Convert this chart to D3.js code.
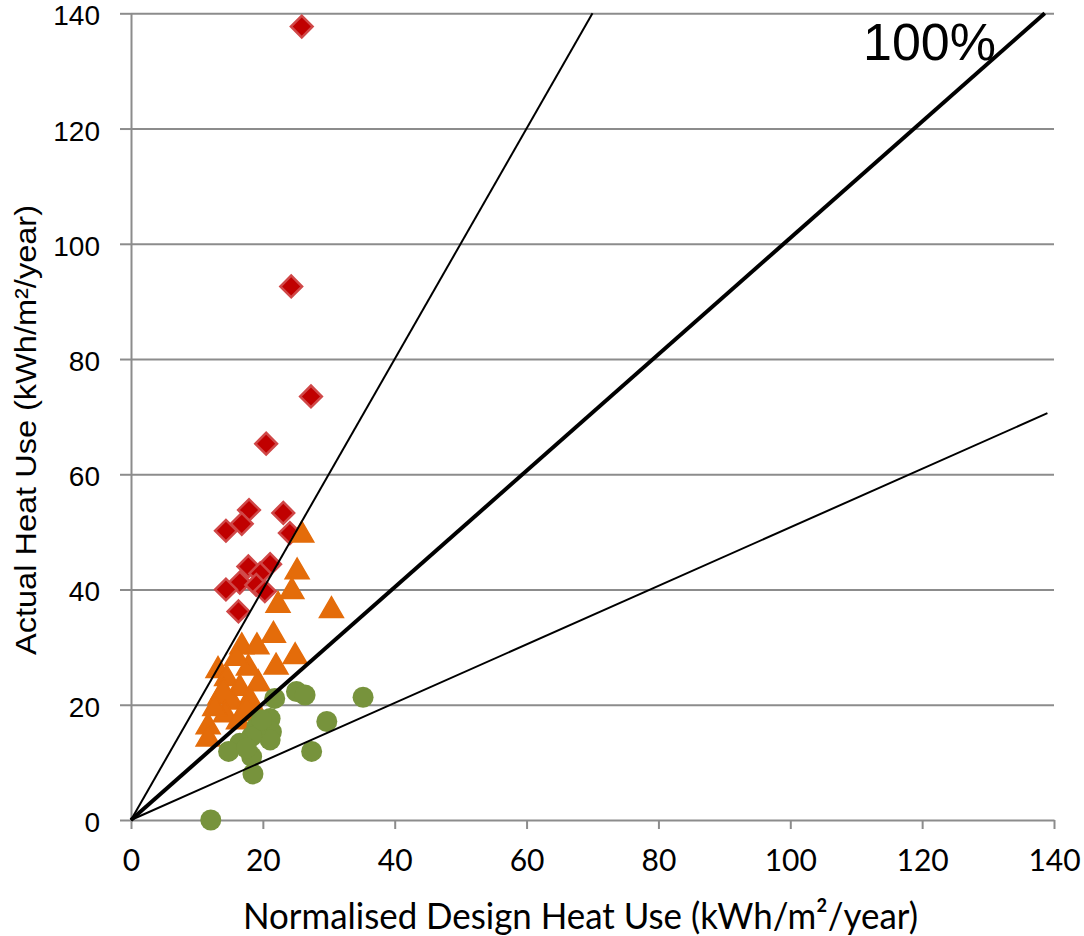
<!DOCTYPE html>
<html>
<head>
<meta charset="utf-8">
<script src="https://d3js.org/d3.v7.min.js"></script>
<style>
  body { margin: 0; background: #fff; }
  .grid line { stroke: #8c8c8c; stroke-width: 2px; }
  .grid path { display: none; }
  .axis path, .axis line { stroke: #8c8c8c; stroke-width: 2px; }
  .yaxis text { font-family: "Liberation Sans", Arial, sans-serif; font-size: 28px; fill: #000; }
  .xaxis text { font-family: Lato, "Open Sans", sans-serif; font-size: 30px; fill: #000; }
</style>
</head>
<body>
<div class="container"></div>
<script>
(function(){

// ratings (kWh/m2/year): [design, actual]
var redX = [25.9, 24.3, 27.3, 20.5, 17.9, 16.8, 14.4, 23.1, 24.1, 17.8, 21.1, 19.6, 16.5, 19.0, 14.4, 20.3, 16.3];
var redY = [137.7, 92.6, 73.5, 65.3, 53.8, 51.4, 50.2, 53.3, 49.8, 44.0, 44.4, 42.8, 41.2, 40.8, 40.0, 39.7, 36.2];

var orangeX = [25.9, 25.2, 24.4, 22.3, 30.4, 21.6, 16.8, 19.1, 24.9, 22.0, 17.8, 13.2, 14.5, 19.3, 16.5, 13.5,
               15.3, 18.0, 14.3, 16.3, 11.7, 11.7, 16.0, 14.0, 19.1, 12.7, 17.5];
var orangeY = [49.8, 43.4, 40.0, 37.6, 36.7, 32.4, 30.4, 30.4, 28.7, 26.9, 26.7, 26.3, 24.9, 24.0, 23.2, 21.7,
               20.8, 21.2, 18.6, 17.4, 16.5, 14.4, 28.4, 22.6, 18.8, 19.7, 19.5];

var greenX = [25.1, 26.4, 35.2, 21.8, 29.7, 21.1, 21.3, 21.1, 19.1, 18.3, 16.5, 14.8, 18.3, 27.4, 18.5, 12.1, 19.8, 17.5];
var greenY = [22.3, 21.7, 21.3, 21.1, 17.1, 17.6, 15.3, 13.9, 16.2, 14.5, 13.3, 11.9, 11.0, 11.9, 8.0, 0.0, 17.4, 12.5];

// reference lines (200%, 100%, 50%) as [x, y] end points
var lineNames = ["200%", "100%", "50%"];
var lineEndX = [70.0, 138.6, 139.0];
var lineEndY = [140, 140, 70.6];

var xTicks = [0, 20, 40, 60, 80, 100, 120, 140];
var yTicks = [0, 20, 40, 60, 80, 100, 120, 140];

var xTitle = "Normalised Design Heat Use (kWh/m²/year)";
var yTitle = "Actual Heat Use (kWh/m²/year)";

var width = 1084,
    height = 936,
    left = 131,
    top = 13.3,
    right = 1054,
    bottom = 820;

var x = d3.scaleLinear().domain([0, 140]).range([left, right]);
var y = d3.scaleLinear().domain([0, 140]).range([bottom, top]);

var svg = d3.select(".container")
  .append("svg")
  .attr("width", width)
  .attr("height", height);

// horizontal gridlines
svg.append("g")
  .attr("class", "grid")
  .attr("transform", "translate(" + left + ",0)")
  .call(d3.axisLeft(y).tickValues(yTicks.slice(1)).tickSize(-(right - left)).tickFormat(""));

var yAxis = svg.append("g")
  .attr("class", "axis yaxis")
  .attr("transform", "translate(" + left + ",0)")
  .call(d3.axisLeft(y).tickValues(yTicks).tickSize(11).tickSizeOuter(0).tickPadding(20));

yAxis.selectAll("text").attr("dy", "0.41em");

var xAxis = svg.append("g")
  .attr("class", "axis xaxis")
  .attr("transform", "translate(0," + bottom + ")")
  .call(d3.axisBottom(x).tickValues(xTicks).tickSize(9).tickSizeOuter(0).tickPadding(21));

function zip(xs, ys){
  return xs.map(function(v, i){ return [v, ys[i]]; });
}

// series: diamonds, then triangles, then circles
var diamond = d3.symbol().type(d3.symbolSquare).size(235);
svg.append("g")
  .selectAll("path")
  .data(zip(redX, redY))
  .enter()
  .append("path")
  .attr("d", diamond)
  .attr("transform", function(d){
    return "translate(" + x(d[0]) + "," + y(d[1]) + ") rotate(45)";
  })
  .style("fill", "#C00000")
  .style("stroke", "#D04848")
  .style("stroke-width", 2.5);

var tri = d3.symbol().type(d3.symbolTriangle).size(250);
svg.append("g")
  .selectAll("path")
  .data(zip(orangeX, orangeY))
  .enter()
  .append("path")
  .attr("d", tri)
  .attr("transform", function(d){
    return "translate(" + x(d[0]) + "," + (y(d[1]) + 2) + ")";
  })
  .style("fill", "#E46C0A")
  .style("stroke", "#E46C0A")
  .style("stroke-width", 1.5);

svg.append("g")
  .selectAll("circle")
  .data(zip(greenX, greenY))
  .enter()
  .append("circle")
  .attr("cx", function(d){ return x(d[0]); })
  .attr("cy", function(d){ return y(d[1]); })
  .attr("r", 10.5)
  .style("fill", "#77933C");

// ratio lines on top of markers
var line = d3.line()
  .x(function(d){ return x(d[0]); })
  .y(function(d){ return y(d[1]); });

svg.append("g")
  .selectAll("path")
  .data(lineNames)
  .enter()
  .append("path")
  .attr("d", function(d, i){ return line([[0, 0], [lineEndX[i], lineEndY[i]]]); })
  .style("fill", "none")
  .style("stroke", "#000")
  .style("stroke-width", function(d){ return d == "100%" ? 4 : 2; });

svg.append("text")
  .attr("x", 863)
  .attr("y", 60)
  .style("font-family", "'Liberation Sans', Arial, sans-serif")
  .style("font-size", "52px")
  .text("100%");

// axis titles
svg.append("text")
  .attr("x", 243)
  .attr("y", 929)
  .attr("textLength", 675)
  .attr("lengthAdjust", "spacingAndGlyphs")
  .style("font-family", "Lato, 'Open Sans', sans-serif")
  .style("font-size", "37px")
  .text(xTitle);

svg.append("text")
  .attr("transform", "translate(36,655) rotate(-90)")
  .attr("textLength", 450)
  .attr("lengthAdjust", "spacingAndGlyphs")
  .style("font-family", "'Liberation Sans', Arial, sans-serif")
  .style("font-size", "30px")
  .text(yTitle);

})();
</script>
</body>
</html>
